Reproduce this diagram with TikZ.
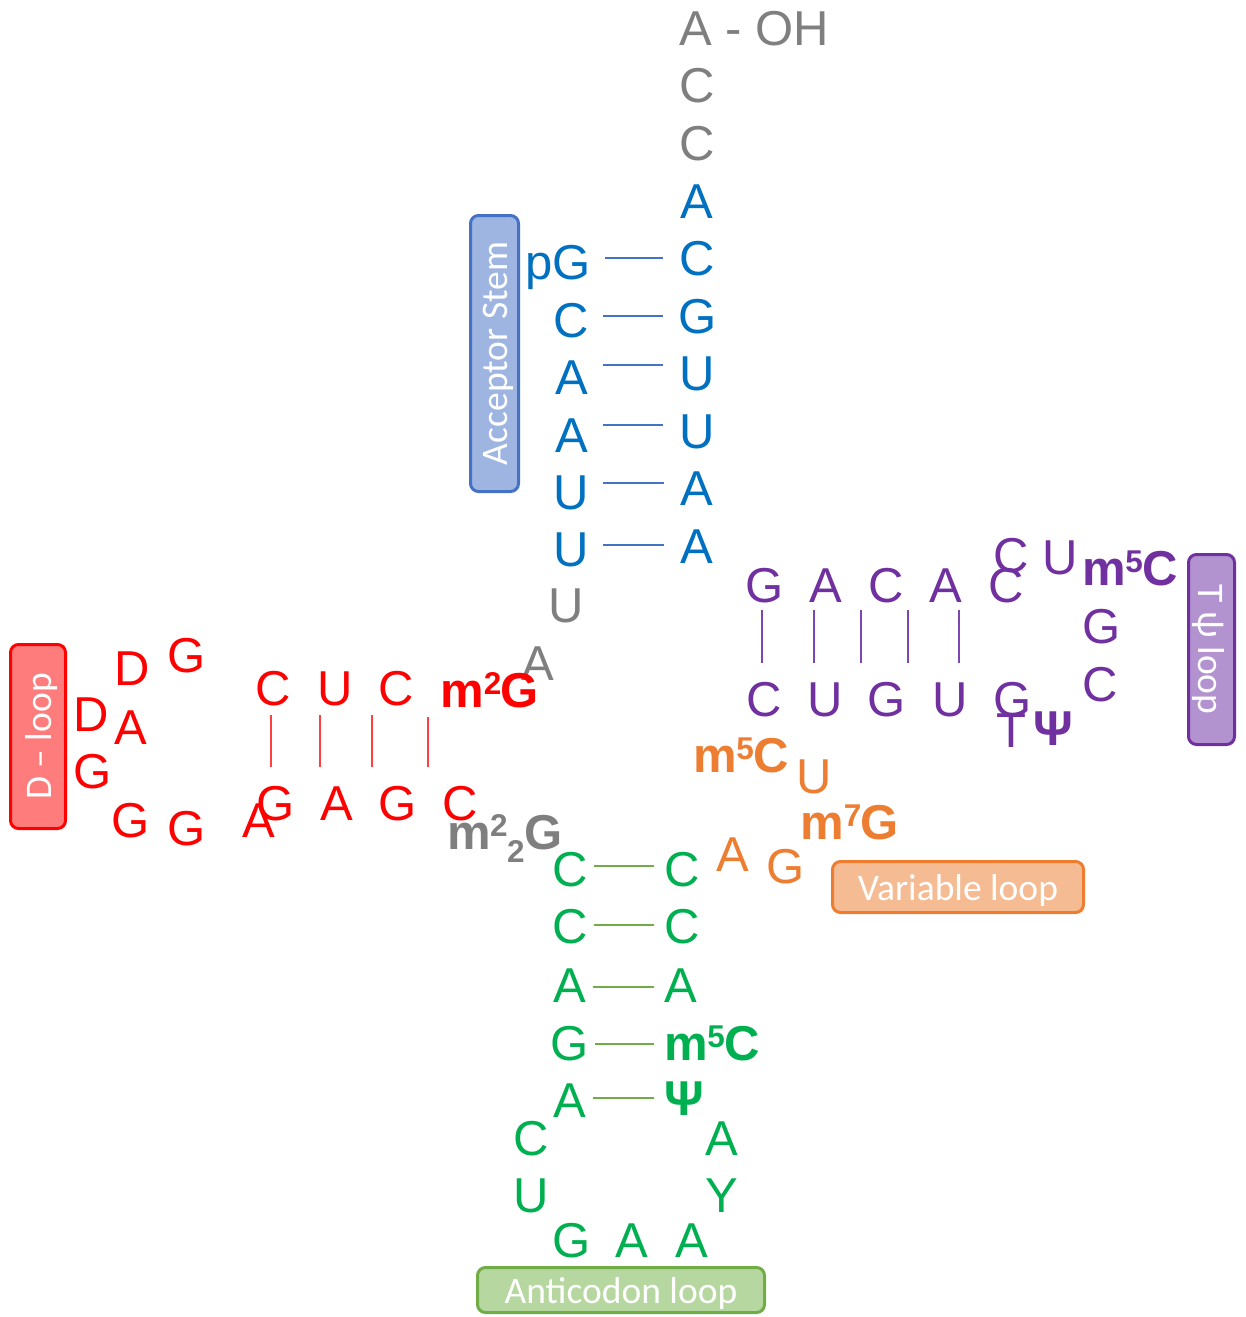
\documentclass[tikz,border=0pt]{standalone}
\usepackage{fontspec}
\setmainfont{Liberation Sans}
\newfontfamily\labelfont{Carlito}
\usetikzlibrary{calc}

\definecolor{ntblue}{HTML}{0070C0}
\definecolor{ntgray}{HTML}{7F7F7F}
\definecolor{ntred}{HTML}{FF0000}
\definecolor{ntpurple}{HTML}{7030A0}
\definecolor{ntorange}{HTML}{ED7D31}
\definecolor{ntgreen}{HTML}{00B050}
\definecolor{accfill}{HTML}{9FB5E1}
\definecolor{accline}{HTML}{4472C4}
\definecolor{dfill}{HTML}{FF7C7C}
\definecolor{redline}{HTML}{FF4040}
\definecolor{tfill}{HTML}{B293CF}
\definecolor{purpline}{HTML}{7F45B0}
\definecolor{vfill}{HTML}{F5BB93}
\definecolor{afill}{HTML}{B7D7A1}
\definecolor{aline}{HTML}{70AD47}

\newcommand\ntsize{\fontsize{49}{49}\selectfont}
\newcommand\lbsize{\labelfont\fontsize{37.5}{37.5}\selectfont}
% raised and lowered digits for modified bases
\newcommand\supd[1]{\kern-0.5pt\raisebox{12.8pt}{\fontsize{31.5}{31.5}\selectfont #1}\kern-0.5pt}
\newcommand\subd[1]{\raisebox{-13pt}{\fontsize{31.5}{31.5}\selectfont #1}}

\tikzset{
  nt/.style={font=\ntsize, inner sep=0pt, text height=35pt, text depth=0pt},
  ntb/.style={nt, font=\ntsize\bfseries},
  pairline/.style={line width=1.2pt},
  tag/.style={draw, line width=3pt, rounded corners=8pt, text=white,
    font=\lbsize, inner sep=0pt, text height=26pt, text depth=0pt},
}

\begin{document}
\begin{tikzpicture}[x=1pt,y=-1pt]
\useasboundingbox (0,0) rectangle (1245,1317);

% ---- 3' end and acceptor stem ----
\node[nt, ntgray, anchor=west] (oh) at (679,28) {A - OH};
\node[nt, ntgray] (c75) at (697,85) {C};
\node[nt, ntgray] (c74) at (697,143) {C};
\node[nt, ntblue] (a73) at (697,201) {A};
\node[nt, ntblue] (ar1) at (697,258) {C};
\node[nt, ntblue] (ar2) at (698,316) {G};
\node[nt, ntblue] (ar3) at (697,373) {U};
\node[nt, ntblue] (ar4) at (697,431) {U};
\node[nt, ntblue] (ar5) at (697,488) {A};
\node[nt, ntblue] (ar6) at (697,546) {A};

\node[nt, ntblue] (al1) at (558,262) {pG};
\node[nt, ntblue] (al2) at (571,320) {C};
\node[nt, ntblue] (al3) at (572,377) {A};
\node[nt, ntblue] (al4) at (572,435) {A};
\node[nt, ntblue] (al5) at (571,492) {U};
\node[nt, ntblue] (al6) at (571,549) {U};
\node[nt, ntgray] (u8) at (566,605) {U};
\node[nt, ntgray] (a9) at (538,663) {A};

\foreach \i/\dy in {1/0,2/0,3/-8,4/-6,5/-5,6/-1}
  \draw[accline, pairline, shorten <=14pt, shorten >=16pt]
    ($(al\i.east |- ar\i.west)+(0,\dy)$) -- ($(ar\i.west)+(0,\dy)$);

% ---- D arm ----
\node[nt, ntred] (dD1) at (132,668) {D};
\node[nt, ntred] (dG1) at (187,655) {G};
\node[nt, ntred] (dD2) at (91,714) {D};
\node[nt, ntred] (dA1) at (131,727) {A};
\node[nt, ntred] (dG2) at (93,771) {G};
\node[nt, ntred] (dG3) at (131,820) {G};
\node[nt, ntred] (dG4) at (187,828) {G};
\node[nt, ntred] (dA2) at (259,820) {A};

\node[nt, ntred] (dt1) at (273,688) {C};
\node[nt, ntred] (dt2) at (335,688) {U};
\node[nt, ntred] (dt3) at (396,688) {C};
\node[ntb, ntred] (dt4) at (490,690) {m\supd{2}G};
\node[nt, ntred] (db1) at (276,803) {G};
\node[nt, ntred] (db2) at (337,803) {A};
\node[nt, ntred] (db3) at (398,803) {G};
\node[nt, ntred] (db4) at (460,803) {C};

\foreach \i/\dx in {1/-2,2/-15,3/-24,4/-62}
  \draw[redline, pairline, shorten <=9.5pt, shorten >=18.5pt]
    ($(dt\i.south)+(\dx,0)$) -- ($(dt\i.south |- db\i.north)+(\dx,0)$);

\node[ntb, ntgray] (m22g) at (505,832) {m\supd{2}\subd{2}G};

% ---- T arm ----
\node[nt, ntpurple] (tt1) at (765,585) {G};
\node[nt, ntpurple] (tt2) at (826,585) {A};
\node[nt, ntpurple] (tt3) at (886,585) {C};
\node[nt, ntpurple] (tt4) at (946,585) {A};
\node[nt, ntpurple] (tt5) at (1006,585) {C};
\node[nt, ntpurple] (tC) at (1011,555) {C};
\node[nt, ntpurple] (tU) at (1060,557) {U};
\node[ntb, ntpurple] (tm) at (1130,568) {m\supd{5}C};
\node[nt, ntpurple] (tG) at (1102,626) {G};
\node[nt, ntpurple] (tC2) at (1100,684) {C};
\node[nt, ntpurple] (tb1) at (764,699) {C};
\node[nt, ntpurple] (tb2) at (825,699) {U};
\node[nt, ntpurple] (tb3) at (887,699) {G};
\node[nt, ntpurple] (tb4) at (950,699) {U};
\node[nt, ntpurple] (tb5) at (1013,699) {G};
\node[nt, ntpurple] (tT) at (1011,730) {T};
\node[ntb, ntpurple] (tPsi) at (1053,728) {Ψ};

\foreach \i/\dx in {1/-3,2/-12,3/-25,4/-38,5/-47}
  \draw[purpline, pairline, shorten <=7.5pt, shorten >=18.5pt]
    ($(tt\i.south)+(\dx,0)$) -- ($(tt\i.south |- tb\i.north)+(\dx,0)$);

% ---- variable loop ----
\node[ntb, ntorange] (vm5) at (741,755) {m\supd{5}C};
\node[nt, ntorange] (vU) at (814,776) {U};
\node[ntb, ntorange] (vm7) at (850,822) {m\supd{7}G};
\node[nt, ntorange] (vA) at (733,854) {A};
\node[nt, ntorange] (vG) at (786,866) {G};

% ---- anticodon arm ----
\node[nt, ntgreen] (gl1) at (570,869) {C};
\node[nt, ntgreen] (gl2) at (570,926) {C};
\node[nt, ntgreen] (gl3) at (570,985) {A};
\node[nt, ntgreen] (gl4) at (570,1043) {G};
\node[nt, ntgreen] (gl5) at (570,1100) {A};
\node[nt, ntgreen] (gr1) at (682,869) {C};
\node[nt, ntgreen] (gr2) at (682,926) {C};
\node[nt, ntgreen] (gr3) at (681,985) {A};
\node[ntb, ntgreen] (gr4) at (712,1043) {m\supd{5}C};
\node[ntb, ntgreen] (gr5) at (684,1098) {Ψ};
\node[nt, ntgreen] (gC) at (531,1138) {C};
\node[nt, ntgreen] (gU) at (531,1195) {U};
\node[nt, ntgreen] (gG) at (572,1240) {G};
\node[nt, ntgreen] (gA1) at (632,1240) {A};
\node[nt, ntgreen] (gA2) at (692,1240) {A};
\node[nt, ntgreen] (gY) at (722,1195) {Y};
\node[nt, ntgreen] (gA3) at (722,1138) {A};

\foreach \i/\dy in {1/-3,2/-1,3/2,4/1,5/0}
  \draw[aline, pairline, shorten <=6pt, shorten >=10pt]
    ($(gl\i.east |- gr\i.west)+(0,\dy)$) -- ($(gr\i.west)+(0,\dy)$);

% ---- region labels ----
\node[tag, draw=accline, fill=accfill, rotate=90, minimum width=276pt,
  minimum height=48pt] (accbox) at (494.5,353.5) {Acceptor Stem};
\node[tag, draw=ntred, fill=dfill, rotate=90, minimum width=184pt,
  minimum height=55pt] (dbox) at (38,736.5) {D – loop};
\node[tag, draw=ntpurple, fill=tfill, rotate=-90, minimum width=190pt,
  minimum height=46pt] (tbox) at (1211.5,649.5) {T ψ loop};
\node[tag, draw=ntorange, fill=vfill, minimum width=251pt,
  minimum height=51pt] (vbox) at (958,887) {Variable loop};
\node[tag, draw=aline, fill=afill, minimum width=287pt,
  minimum height=45pt] (abox) at (621,1290) {Anticodon loop};
\end{tikzpicture}
\end{document}
